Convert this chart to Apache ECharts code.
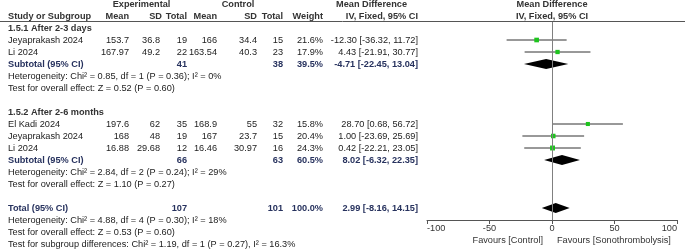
<!DOCTYPE html>
<html lang="en">
<head>
    <meta charset="UTF-8">
    <title>Forest plot</title>
    <script src="https://cdn.jsdelivr.net/npm/echarts@6.0.0/dist/echarts.min.js"></script>
    <style>
        html, body { margin: 0; padding: 0; background: #fff; }
    </style>
</head>
<body>
<div id="forest" style="width: 685px;height:251px;"></div>
</body>
<script>
    // study level data
    var groupTitles = ['1.5.1 After 2-3 days', '1.5.2 After 2-6 months'];
    var studyNames = ['Jeyaprakash 2024', 'Li 2024', 'El Kadi 2024', 'Jeyaprakash 2024', 'Li 2024'];
    var studyGroup = [0, 0, 1, 1, 1];
    var expMean = [153.7, 167.97, 197.6, 168, 16.88];
    var expSD = [36.8, 49.2, 62, 48, 29.68];
    var expN = [19, 22, 35, 19, 12];
    var ctlMean = [166, 163.54, 168.9, 167, 16.46];
    var ctlSD = [34.4, 40.3, 55, 23.7, 30.97];
    var ctlN = [15, 23, 32, 15, 16];
    var weights = [21.6, 17.9, 15.8, 20.4, 24.3];
    var md = [-12.30, 4.43, 28.70, 1.00, 0.42];
    var ciLow = [-36.32, -21.91, 0.68, -23.69, -22.21];
    var ciHigh = [11.72, 30.77, 56.72, 25.69, 23.05];

    // subtotals and total
    var subExpN = [41, 66];
    var subCtlN = [38, 63];
    var subWeight = [39.5, 60.5];
    var subMD = [-4.71, 8.02];
    var subLow = [-22.45, -6.32];
    var subHigh = [13.04, 22.35];
    var totalExpN = 107, totalCtlN = 101, totalWeight = 100.0;
    var totalMD = 2.99, totalLow = -8.16, totalHigh = 14.15;

    var hetTexts = [
        'Heterogeneity: Chi² = 0.85, df = 1 (P = 0.36); I² = 0%',
        'Heterogeneity: Chi² = 2.84, df = 2 (P = 0.24); I² = 29%',
        'Heterogeneity: Chi² = 4.88, df = 4 (P = 0.30); I² = 18%'
    ];
    var effectTexts = [
        'Test for overall effect: Z = 0.52 (P = 0.60)',
        'Test for overall effect: Z = 1.10 (P = 0.27)',
        'Test for overall effect: Z = 0.53 (P = 0.60)'
    ];
    var subgroupText = 'Test for subgroup differences: Chi² = 1.19, df = 1 (P = 0.27), I² = 16.3%';
    var axisTicks = [-100, -50, 0, 50, 100];
    var favourLabels = ['Favours [Control]', 'Favours [Sonothrombolysis]'];

    // layout: one text row every 12px, row 0 at y=28
    var ROW0 = 28, ROWH = 12;
    function rowY(r) { return ROW0 + ROWH * r; }
    var FONT = '"Liberation Sans", Arial, sans-serif';
    var TXT = '#222', HEAD = '#333', SUB = '#27325e';

    var graphics = [];
    function txt(x, r, s, align, bold, color) {
        graphics.push({
            type: 'text', x: x, y: rowY(r), silent: true,
            style: {
                text: s, fill: color || TXT,
                font: (bold ? 'bold ' : '') + '9.2px ' + FONT,
                textAlign: align || 'left', textVerticalAlign: 'middle'
            }
        });
    }
    function ciText(m, lo, hi) {
        return m.toFixed(2) + ' [' + lo.toFixed(2) + ', ' + hi.toFixed(2) + ']';
    }

    // column right edges
    var C = {eMean: 129, eSD: 160, eN: 187, cMean: 217, cSD: 257, cN: 283, w: 323, ci: 418};

    // headers
    txt(141.5, -2, 'Experimental', 'center', true, HEAD);
    txt(238, -2, 'Control', 'center', true, HEAD);
    txt(371.5, -2, 'Mean Difference', 'center', true, HEAD);
    txt(552, -2, 'Mean Difference', 'center', true, HEAD);
    txt(8, -1, 'Study or Subgroup', 'left', true, HEAD);
    txt(C.eMean, -1, 'Mean', 'right', true, HEAD);
    txt(162, -1, 'SD', 'right', true, HEAD);
    txt(C.eN, -1, 'Total', 'right', true, HEAD);
    txt(C.cMean, -1, 'Mean', 'right', true, HEAD);
    txt(C.cSD, -1, 'SD', 'right', true, HEAD);
    txt(C.cN, -1, 'Total', 'right', true, HEAD);
    txt(C.w, -1, 'Weight', 'right', true, HEAD);
    txt(C.ci, -1, 'IV, Fixed, 95% CI', 'right', true, HEAD);
    txt(552, -1, 'IV, Fixed, 95% CI', 'center', true, HEAD);
    graphics.push({
        type: 'line', silent: true,
        shape: {x1: 0, y1: 21.5, x2: 685, y2: 21.5},
        style: {stroke: '#555', lineWidth: 1}
    });

    var studyPoints = [];
    var diamonds = [];
    var row = 0;
    groupTitles.forEach(function (title, g) {
        txt(8, row, title, 'left', true, HEAD);
        row++;
        studyNames.forEach(function (name, i) {
            if (studyGroup[i] !== g) return;
            txt(8, row, name);
            txt(C.eMean, row, String(expMean[i]), 'right');
            txt(C.eSD, row, String(expSD[i]), 'right');
            txt(C.eN, row, String(expN[i]), 'right');
            txt(C.cMean, row, String(ctlMean[i]), 'right');
            txt(C.cSD, row, String(ctlSD[i]), 'right');
            txt(C.cN, row, String(ctlN[i]), 'right');
            txt(C.w, row, weights[i].toFixed(1) + '%', 'right');
            txt(C.ci, row, ciText(md[i], ciLow[i], ciHigh[i]), 'right');
            studyPoints.push([md[i], ciLow[i], ciHigh[i], row, weights[i]]);
            row++;
        });
        txt(8, row, 'Subtotal (95% CI)', 'left', true, SUB);
        txt(C.eN, row, String(subExpN[g]), 'right', true, SUB);
        txt(C.cN, row, String(subCtlN[g]), 'right', true, SUB);
        txt(C.w, row, subWeight[g].toFixed(1) + '%', 'right', true, SUB);
        txt(C.ci, row, ciText(subMD[g], subLow[g], subHigh[g]), 'right', true, SUB);
        diamonds.push([subMD[g], subLow[g], subHigh[g], row]);
        row++;
        txt(8, row, hetTexts[g]);
        row++;
        txt(8, row, effectTexts[g]);
        row += 2;
    });
    txt(8, row, 'Total (95% CI)', 'left', true, SUB);
    txt(C.eN, row, String(totalExpN), 'right', true, SUB);
    txt(C.cN, row, String(totalCtlN), 'right', true, SUB);
    txt(C.w, row, totalWeight.toFixed(1) + '%', 'right', true, SUB);
    txt(C.ci, row, ciText(totalMD, totalLow, totalHigh), 'right', true, SUB);
    diamonds.push([totalMD, totalLow, totalHigh, row]);
    txt(8, row + 1, hetTexts[2]);
    txt(8, row + 2, effectTexts[2]);
    txt(8, row + 3, subgroupText);

    // favours labels under the axis
    graphics.push({
        type: 'text', x: 543, y: 240, silent: true,
        style: {text: favourLabels[0], fill: HEAD, font: '9.2px ' + FONT, textAlign: 'right', textVerticalAlign: 'middle'}
    });
    graphics.push({
        type: 'text', x: 557, y: 240, silent: true,
        style: {text: favourLabels[1], fill: HEAD, font: '9.2px ' + FONT, textAlign: 'left', textVerticalAlign: 'middle'}
    });

    var chart = echarts.init(document.getElementById('forest'), null, {renderer: 'canvas'});
    chart.setOption({
        animation: false,
        grid: {left: 427, right: 8, top: 22, bottom: 31},
        xAxis: {
            type: 'value',
            min: axisTicks[0],
            max: axisTicks[axisTicks.length - 1],
            interval: axisTicks[1] - axisTicks[0],
            splitLine: {show: false},
            axisLine: {show: true, onZero: false, lineStyle: {color: '#555', width: 1}},
            axisTick: {show: true, length: 4, lineStyle: {color: '#555'}},
            axisLabel: {
                color: '#333', fontSize: 9.2, fontFamily: FONT, margin: 4,
                alignMinLabel: 'left', alignMaxLabel: 'right'
            }
        },
        yAxis: {
            type: 'value', inverse: true, min: -0.5, max: 16,
            show: false
        },
        graphic: graphics,
        series: [
            {
                type: 'custom',
                clip: false,
                data: studyPoints,
                renderItem: function (params, api) {
                    var m = api.coord([api.value(0), api.value(3)]);
                    var lo = api.coord([api.value(1), api.value(3)]);
                    var hi = api.coord([api.value(2), api.value(3)]);
                    var s = 2.5 + api.value(4) / 10;
                    return {
                        type: 'group',
                        children: [
                            {
                                type: 'line',
                                shape: {x1: lo[0], y1: lo[1], x2: hi[0], y2: hi[1]},
                                style: {stroke: '#333', lineWidth: 1}
                            },
                            {
                                type: 'rect',
                                shape: {x: m[0] - s / 2, y: m[1] - s / 2, width: s, height: s},
                                style: {fill: '#1ec41e'}
                            }
                        ]
                    };
                },
                markLine: {
                    silent: true,
                    symbol: ['none', 'none'],
                    label: {show: false},
                    lineStyle: {color: '#808080', width: 1, type: 'solid'},
                    data: [{xAxis: 0}]
                }
            },
            {
                type: 'custom',
                clip: false,
                data: diamonds,
                renderItem: function (params, api) {
                    var m = api.coord([api.value(0), api.value(3)]);
                    var lo = api.coord([api.value(1), api.value(3)]);
                    var hi = api.coord([api.value(2), api.value(3)]);
                    var h = 5;
                    return {
                        type: 'polygon',
                        shape: {points: [[lo[0], lo[1]], [m[0], m[1] - h], [hi[0], hi[1]], [m[0], m[1] + h]]},
                        style: {fill: '#000'}
                    };
                }
            }
        ]
    });
</script>
</html>
